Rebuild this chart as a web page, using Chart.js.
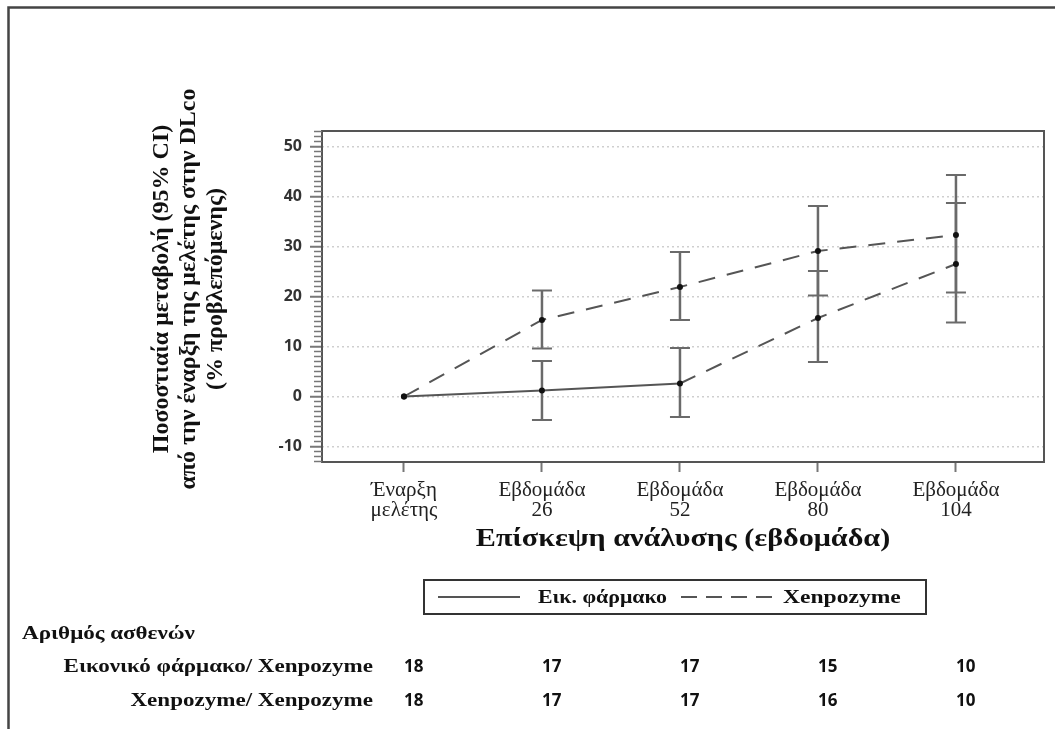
<!DOCTYPE html>
<html>
<head>
<meta charset="utf-8">
<script src="https://cdn.jsdelivr.net/npm/chart.js@4.4.1/dist/chart.umd.min.js"></script>
<style>
  html, body { margin: 0; padding: 0; background: #fff; }
  canvas { display: block; }
</style>
</head>
<body>
<canvas id="chart" width="1055" height="729"></canvas>
<script>
// visits on the x axis
const visitLabels = [['Έναρξη', 'μελέτης'], ['Εβδομάδα', '26'], ['Εβδομάδα', '52'], ['Εβδομάδα', '80'], ['Εβδομάδα', '104']];
const visitPos = [0, 1, 2, 3, 4];

// % change from baseline in DLco, mean and 95% CI
const placeboMean = [0, 1.2, 2.6, 15.7, 26.5];
const placeboLow = [null, -4.7, -4.1, 6.9, 14.8];
const placeboHigh = [null, 7.1, 9.7, 25.1, 38.7];
const xenMean = [0, 15.3, 21.9, 29.1, 32.3];
const xenLow = [null, 9.6, 15.3, 20.2, 20.8];
const xenHigh = [null, 21.2, 28.9, 38.1, 44.3];

// number of patients per visit
const nPlacebo = [18, 17, 17, 15, 10];
const nXen = [18, 17, 17, 16, 10];

const seriesLabels = ['Εικ. φάρμακο', 'Xenpozyme'];
const riskTitle = 'Αριθμός ασθενών';
const riskRows = ['Εικονικό φάρμακο/ Xenpozyme', 'Xenpozyme/ Xenpozyme'];
const yTitle = ['Ποσοστιαία μεταβολή (95% CI)', 'από την έναρξη της μελέτης στην DLco', '(% προβλεπόμενης)'];
const xTitle = 'Επίσκεψη ανάλυσης (εβδομάδα)';

const SERIF = '"Liberation Serif", "Times New Roman", serif';
const SANS = '"Open Sans", "DejaVu Sans", sans-serif';
const DASH = [17, 12];

function line(ctx, x1, y1, x2, y2) {
    ctx.beginPath();
    ctx.moveTo(x1, y1);
    ctx.lineTo(x2, y2);
    ctx.stroke();
}

// the source picture has its text a bit wider than the font, so stretch it
function wideText(ctx, text, x, y, sx, align) {
    ctx.save();
    ctx.translate(x, y);
    ctx.scale(sx, 1);
    ctx.textAlign = align;
    ctx.fillText(text, 0, 0);
    ctx.restore();
}

// CI whiskers, drawn under the lines and points
const errorBars = {
    id: 'errorBars',
    beforeDatasetsDraw(chart) {
        const { ctx, scales: { x, y } } = chart;
        ctx.save();
        ctx.strokeStyle = '#6a6a6a';
        [[placeboLow, placeboHigh], [xenLow, xenHigh]].forEach(([lo, hi]) => {
            visitPos.forEach((v, i) => {
                if (lo[i] == null) return;
                const px = x.getPixelForValue(v);
                const top = y.getPixelForValue(hi[i]);
                const bot = y.getPixelForValue(lo[i]);
                ctx.lineWidth = 2.5;
                line(ctx, px, top, px, bot);
                ctx.lineWidth = 2;
                line(ctx, px - 10, top, px + 10, top);
                line(ctx, px - 10, bot, px + 10, bot);
            });
        });
        ctx.restore();
    }
};

// plot box, minor ticks, titles, legend, patient table, outer frame
const decorations = {
    id: 'decorations',
    afterDraw(chart) {
        const { ctx, chartArea: a, scales: { x, y } } = chart;
        ctx.save();

        // plot box
        ctx.strokeStyle = '#555';
        ctx.lineWidth = 2;
        ctx.strokeRect(a.left, a.top, a.right - a.left, a.bottom - a.top);

        // minor ticks on y
        ctx.strokeStyle = '#777';
        ctx.lineWidth = 1.5;
        for (let v = Math.ceil(y.min); v <= y.max; v++) {
            if (v % 10 === 0) continue;
            const py = y.getPixelForValue(v);
            line(ctx, a.left - 8, py, a.left, py);
        }

        ctx.fillStyle = '#111';

        // y title, rotated
        ctx.save();
        ctx.translate(189, 289);
        ctx.rotate(-Math.PI / 2);
        ctx.font = 'bold 24px ' + SERIF;
        ctx.textAlign = 'center';
        ctx.textBaseline = 'middle';
        yTitle.forEach((t, i) => ctx.fillText(t, 0, (i - 1) * 27));
        ctx.restore();

        // x title
        ctx.font = 'bold 26px ' + SERIF;
        ctx.textBaseline = 'alphabetic';
        wideText(ctx, xTitle, (a.left + a.right) / 2, 546, 1.16, 'center');

        // legend
        ctx.strokeStyle = '#333';
        ctx.lineWidth = 2;
        ctx.strokeRect(424, 580, 502, 34);
        ctx.strokeStyle = '#555';
        line(ctx, 438, 597, 520, 597);
        ctx.setLineDash([16, 9]);
        line(ctx, 681, 597, 777, 597);
        ctx.setLineDash([]);
        ctx.font = 'bold 19px ' + SERIF;
        ctx.textBaseline = 'middle';
        wideText(ctx, seriesLabels[0], 538, 598, 1.15, 'left');
        wideText(ctx, seriesLabels[1], 783, 598, 1.24, 'left');

        // number of patients
        ctx.font = 'bold 18px ' + SERIF;
        wideText(ctx, riskTitle, 22, 634, 1.28, 'left');
        riskRows.forEach((t, i) => wideText(ctx, t, 373, 667 + i * 34, 1.28, 'right'));
        ctx.font = 'bold 17px ' + SANS;
        ctx.textAlign = 'left';
        [nPlacebo, nXen].forEach((row, r) => {
            row.forEach((n, i) => ctx.fillText(String(n), x.getPixelForValue(visitPos[i]), 667 + r * 34));
        });

        // outer frame (top and left edges)
        ctx.strokeStyle = '#444';
        ctx.lineWidth = 2.5;
        ctx.beginPath();
        ctx.moveTo(8.5, 729);
        ctx.lineTo(8.5, 7.5);
        ctx.lineTo(1055, 7.5);
        ctx.stroke();

        ctx.restore();
    }
};

const ctx = document.getElementById('chart').getContext('2d');

new Chart(ctx, {
    type: 'line',
    data: {
        datasets: [
            {
                label: seriesLabels[0],
                data: visitPos.map((v, i) => ({ x: v, y: placeboMean[i] })),
                borderColor: '#555',
                borderWidth: 2,
                pointRadius: 3,
                pointBackgroundColor: '#111',
                pointBorderWidth: 0,
                segment: {
                    borderDash: c => c.p0DataIndex >= 2 ? DASH : undefined
                }
            },
            {
                label: seriesLabels[1],
                data: visitPos.map((v, i) => ({ x: v, y: xenMean[i] })),
                borderColor: '#555',
                borderWidth: 2,
                borderDash: DASH,
                pointRadius: 3,
                pointBackgroundColor: '#111',
                pointBorderWidth: 0
            }
        ]
    },
    options: {
        responsive: false,
        animation: false,
        layout: {
            padding: { left: 0, top: 131, right: 11, bottom: 0 }
        },
        scales: {
            x: {
                type: 'linear',
                min: -0.594,
                max: 4.638,
                afterFit: s => { s.height = 267; },
                border: { display: false },
                grid: {
                    drawOnChartArea: false,
                    tickLength: 10,
                    tickColor: '#777',
                    tickWidth: 2
                },
                ticks: {
                    stepSize: 1,
                    includeBounds: false,
                    autoSkip: false,
                    maxRotation: 0,
                    padding: 9,
                    color: '#222',
                    font: { family: SERIF, size: 21, lineHeight: 0.95 },
                    callback: v => Number.isInteger(v) ? visitLabels[v] : ''
                }
            },
            y: {
                min: -13.1,
                max: 53.1,
                afterFit: s => { s.width = 322; },
                border: { display: false, dash: [2, 3] },
                grid: {
                    color: '#cfcfcf',
                    lineWidth: 1.5,
                    tickLength: 12,
                    tickColor: '#777',
                    tickWidth: 2
                },
                ticks: {
                    stepSize: 10,
                    includeBounds: false,
                    padding: 8,
                    color: '#333',
                    font: { family: SANS, size: 16, weight: 'bold' }
                }
            }
        },
        plugins: {
            legend: { display: false },
            tooltip: { enabled: false }
        }
    },
    plugins: [errorBars, decorations]
});
</script>
</body>
</html>
